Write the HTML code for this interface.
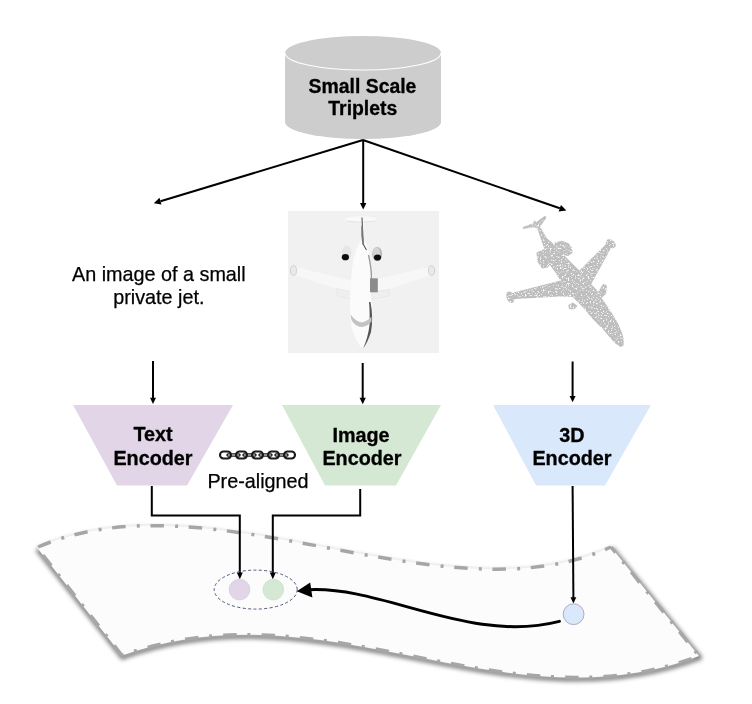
<!DOCTYPE html>
<html><head><meta charset="utf-8">
<style>
html,body{margin:0;padding:0;background:#fff;}
body{width:752px;height:704px;overflow:hidden;position:relative;}
svg{position:absolute;left:0;top:0;will-change:transform;}
text{font-family:"Liberation Sans",sans-serif;stroke:#000;stroke-width:0.25px;}
text[font-weight="bold"],g[font-weight="bold"] text{stroke-width:0.3px;}
</style></head>
<body>
<svg width="752" height="704" viewBox="0 0 752 704">
<defs>
  <filter id="soft" x="-5%" y="-5%" width="110%" height="110%"><feGaussianBlur stdDeviation="0.45"/></filter>
  <filter id="pcnoise" x="0" y="0" width="100%" height="100%">
    <feTurbulence type="fractalNoise" baseFrequency="0.6" numOctaves="2" seed="7" result="n"/>
    <feColorMatrix in="n" type="matrix" values="0 0 0 0 1  0 0 0 0 1  0 0 0 0 1  5 0 0 0 -2.75" result="w"/>
    <feComposite in="w" in2="SourceAlpha" operator="in" result="wm"/>
        <feMerge><feMergeNode in="SourceGraphic"/><feMergeNode in="wm"/></feMerge>
  </filter>
  <filter id="blur2" x="-10%" y="-20%" width="120%" height="140%"><feGaussianBlur stdDeviation="2.2"/></filter>
  <filter id="blur1" x="-10%" y="-20%" width="120%" height="140%"><feGaussianBlur stdDeviation="1.2"/></filter>
</defs>

<!-- cylinder -->
<path d="M285,53 L285,122 A78,17 0 0 0 441,122 L441,53 A78,17 0 0 0 285,53 Z" fill="#cdcdcd"/>
<path d="M285,53 A78,17 0 0 0 441,53" fill="none" stroke="#fff" stroke-width="1.2"/>
<text x="362.5" y="93" text-anchor="middle" font-size="19.4" font-weight="bold">Small Scale</text>
<text x="362.8" y="115.3" text-anchor="middle" font-size="19.4" font-weight="bold">Triplets</text>

<!-- top arrows -->
<g stroke="#000" stroke-width="2" fill="none">
  <line x1="363" y1="140" x2="160.5" y2="201.2"/>
  <line x1="363.2" y1="140" x2="363.2" y2="204"/>
  <line x1="363" y1="140" x2="559.8" y2="208.3"/>
</g>
<path d="M153.8,203.2 L159.5,197.85 L161.5,204.55 Z" fill="#000"/>
<path d="M360,203 L366.4,203 L363.2,209.5 Z" fill="#000"/>
<path d="M566.4,210.6 L558.65,211.6 L560.95,205.0 Z" fill="#000"/>

<!-- text prompt -->
<text x="158.8" y="281.3" text-anchor="middle" font-size="19.8">An image of a small</text>
<text x="158.8" y="304.4" text-anchor="middle" font-size="19.8">private jet.</text>

<!-- image box -->
<rect x="288" y="211" width="151" height="142" fill="#f1f1f1"/>
<g id="jet" filter="url(#soft)">
  <!-- horizontal stabilizer -->
  <path d="M345,218.5 Q361,214.5 376,218 Q376.5,220.5 372,221.5 Q361,223 349,221.5 Q344.5,220.5 345,218.5 Z" fill="#f9f9f9"/>
  <path d="M347,221.2 Q361,223.5 375,221" fill="none" stroke="#dedede" stroke-width="0.8"/>
  <!-- wings -->
  <path d="M294,266.5 L351,280.5 L353,299.5 L337,296 L336,288.5 L295.5,275.5 Z" fill="#f7f7f7"/>
  <path d="M431,266.5 L376,279.5 L374,299.5 L389,296.5 L389,289 L430,275.5 Z" fill="#f7f7f7"/>
  <path d="M336.5,288.5 L352,292 L352.5,299.4 L337,295.8 Z" fill="#efefef" stroke="#dcdcdc" stroke-width="0.5"/>
  <path d="M389,289.5 L372,292 L371.5,299.4 L389,296 Z" fill="#efefef" stroke="#dcdcdc" stroke-width="0.5"/>
  <ellipse cx="293.5" cy="270.5" rx="3.2" ry="5" fill="#e9e9e9" stroke="#c9c9c9" stroke-width="0.8"/>
  <ellipse cx="431.5" cy="270.5" rx="3.2" ry="5" fill="#e9e9e9" stroke="#c9c9c9" stroke-width="0.8"/>
  <!-- fuselage -->
  <path d="M362,217 L363.2,217 L364.5,240 C367,245 368.9,250 369.5,258 C370.5,268 370.5,280 371.5,300 C372.8,318 373,328 369,338 C367,343 364,347 362,348 C359,345 356,340 353.5,333 C350.5,325 350,315 350,300 C350.5,285 351.5,272 353,262 C355,250 359,244 361,240 Z" fill="#fbfbfb"/>
  <path d="M362,217.5 L363.2,244 Q365,247.5 366.5,250" fill="none" stroke="#555" stroke-width="1.1"/>
  <path d="M361.2,226 Q360.8,236 362.5,245 L364,244 Q362.8,236 363,226 Z" fill="#777"/>
  <path d="M368.5,255 Q371.5,268 371.5,279" fill="none" stroke="#9a9a9a" stroke-width="1.3"/>
  <path d="M370.5,302 Q373.5,318 371,332 Q367.5,343 363,348.5 Q368,338 369.5,325 Q370,312 369,302 Z" fill="#555"/>
  <!-- wing root dark patch -->
  <rect x="370" y="278.3" width="7.8" height="14" fill="#8c8c8c"/>
  <!-- cockpit -->
  <path d="M350.5,314.5 Q356,322 362,322.5 Q368,321 371.5,316.5 L371.5,321.5 Q368,326 362,327 Q355,326.5 351.5,320 Z" fill="#c2c2c2"/>
  <!-- engines -->
  <ellipse cx="346.6" cy="253" rx="4.8" ry="7.5" fill="#e6e6e6"/>
  <ellipse cx="377.2" cy="254" rx="5" ry="7" fill="#b9b9b9"/>
  <ellipse cx="376.5" cy="253" rx="3.5" ry="5.5" fill="#d4d4d4"/>
  <ellipse cx="345.4" cy="257.2" rx="3.6" ry="3.1" fill="#111"/>
  <ellipse cx="377.5" cy="257.5" rx="3.6" ry="3.1" fill="#111"/>
</g>

<!-- point cloud jet -->
<g fill="#bebebe" filter="url(#pcnoise)"><g id="pcs">
  <polygon points="522.2,227.2 533.0,223.2 534.1,220.3 536.4,222.0 544.9,215.8 546.6,217.5 540.9,225.5 539.2,228.9 534.1,227.2 523.3,228.9"/>
  <polygon points="537.5,228.9 540.9,227.7 546.6,238.0 554.5,244.8 566.5,257.7 579.4,270.6 588.6,281.7 596,289.1 603.4,300.2 610.8,311.3 617.5,322.5 621.5,331 623.8,339.5 623.5,345.5 620.5,347 616.5,344.5 612,340 603.4,329.7 592.3,318.6 583.1,307.6 573.9,298.3 564.6,287.3 555.4,272.5 549.9,265.1 546.2,254 542,242.5"/>
  <polygon points="554.5,242.5 561.4,240.8 568.2,243.1 571.6,247.0 572.7,252.7 568.2,256.1 561.4,255.0 555.7,250.5"/>
  <polygon points="536.4,252.7 543.2,249.3 551.1,252.7 552.3,261.8 547.7,267.5 542.0,268.6 537.5,261.8"/>
  <polygon points="560.5,280.5 515.5,292.1 511,293.5 512,300 515.5,298.9 560,296.6 574,297"/>
  <ellipse cx="510.4" cy="297.2" rx="3.8" ry="6" transform="rotate(-20 510.4 297.2)"/>
  <polygon points="579.4,270.6 607.1,242.9 610.8,248.5 590.5,285.4"/>
  <ellipse cx="610.8" cy="243.8" rx="5.5" ry="3.8" transform="rotate(35 610.8 243.8)"/>
  <polygon points="568.3,305 573,302.5 577.6,306 574,309.4 569,309"/>
  <polygon points="598,292 603,284 607.1,285 606,294 601,298.3"/>
</g>
</g>

<!-- vertical arrows to encoders -->
<g stroke="#000" stroke-width="2">
  <line x1="153" y1="361" x2="153" y2="399"/>
  <line x1="362.7" y1="363" x2="362.7" y2="399"/>
  <line x1="572.6" y1="361.5" x2="572.6" y2="397"/>
</g>
<path d="M150,397.8 L156,397.8 L153,404 Z" fill="#000"/>
<path d="M359.6,397.8 L365.8,397.8 L362.7,404.2 Z" fill="#000"/>
<path d="M569.6,396 L575.6,396 L572.6,402.3 Z" fill="#000"/>

<!-- encoders -->
<path d="M73,405 L233,405 L187,485.5 L117,485.5 Z" fill="#e1d5e7"/>
<path d="M282,405 L441,405 L396,485.5 L325,485.5 Z" fill="#d5e8d4"/>
<path d="M493,405 L651,405 L605,485.5 L536,485.5 Z" fill="#dae8fc"/>
<g font-size="19.8" font-weight="bold" text-anchor="middle">
  <text x="153" y="441">Text</text>
  <text x="153" y="465">Encoder</text>
  <text x="361" y="442">Image</text>
  <text x="362" y="465">Encoder</text>
  <text x="572" y="442">3D</text>
  <text x="572" y="465">Encoder</text>
</g>

<!-- chain -->
<g stroke="#1a1a1a" fill="none">
  <g stroke-width="2.1">
    <rect x="220" y="451.5" width="11" height="7" rx="3.5"/>
    <rect x="236" y="451.5" width="11" height="7" rx="3.5"/>
    <rect x="252" y="451.5" width="11" height="7" rx="3.5"/>
    <rect x="268" y="451.5" width="11" height="7" rx="3.5"/>
    <rect x="284" y="451.5" width="11" height="7" rx="3.5"/>
  </g>
  <g stroke-width="1.4">
    <rect x="227" y="453.9" width="13" height="2.2" rx="1.1"/>
    <rect x="243" y="453.9" width="13" height="2.2" rx="1.1"/>
    <rect x="259" y="453.9" width="13" height="2.2" rx="1.1"/>
    <rect x="275" y="453.9" width="13" height="2.2" rx="1.1"/>
  </g>
</g>
<text x="258" y="488" text-anchor="middle" font-size="19.8">Pre-aligned</text>

<!-- manifold -->
<path d="M37,547.5 L122,655.5 C324.2,582.8 503.6,730 699,656 L611,547" fill="none" stroke="#000" stroke-opacity="0.5" stroke-width="5" stroke-linejoin="round" transform="translate(0.6,1.6)" filter="url(#blur2)"/>
<path d="M37,547.5 C209.8,471.7 443.4,623.5 611,547" fill="none" stroke="#000" stroke-opacity="0.08" stroke-width="4" filter="url(#blur1)"/>
<g>
  <path d="M37,547.5 C209.8,471.7 443.4,623.5 611,547 L699,656 C503.6,730 324.2,582.8 122,655.5 Z" fill="#fcfcfc"/>
  <g fill="none" stroke="#a6a6a6" stroke-width="3.5" stroke-dasharray="13.5 11.2 3 10.66">
    <path d="M37,547.5 C209.8,471.7 443.4,623.5 611,547" stroke-dashoffset="-1.25"/>
    <path d="M611,547 L699,656" stroke-dashoffset="6.2"/>
    <path d="M699,656 C503.6,730 324.2,582.8 122,655.5" stroke-dashoffset="30.52"/>
    <path d="M122,655.5 L37,547.5" stroke-dashoffset="0.7"/>
  </g>
</g>

<!-- connectors -->
<g stroke="#000" stroke-width="2" fill="none">
  <polyline points="151.8,486 151.8,515.4 239.8,515.4 239.8,573"/>
  <polyline points="360.2,489 360.2,515.4 272.8,515.4 272.8,573"/>
  <line x1="572.6" y1="486" x2="573.4" y2="598"/>
</g>
<path d="M236.8,572.6 L242.8,572.6 L239.8,579.3 Z" fill="#000"/>
<path d="M269.8,572.6 L275.8,572.6 L272.8,579.3 Z" fill="#000"/>
<path d="M570.5,597.3 L576.3,597.3 L573.4,603.5 Z" fill="#000"/>

<!-- embedding ellipse & circles -->
<ellipse cx="255.7" cy="589.6" rx="41.5" ry="19.5" fill="none" stroke="#4a5578" stroke-width="1" stroke-dasharray="3 2.4"/>
<circle cx="239.5" cy="589.6" r="10.4" fill="#e1d5e7" stroke="#d0c4d8" stroke-width="0.6"/>
<circle cx="273.3" cy="589.6" r="10.4" fill="#d5e8d4" stroke="#c4d8c4" stroke-width="0.6"/>
<circle cx="573.6" cy="614.2" r="10.4" fill="#dae8fc" stroke="#a8a2bc" stroke-width="0.9"/>

<!-- big curved arrow -->
<path d="M559.4,621.4 C469.1,644.4 383.6,585.5 308,589.8" fill="none" stroke="#000" stroke-width="3" stroke-linecap="round"/>
<path d="M296.8,591.2 L310.2,582.4 L312.4,597.4 Z" fill="#000"/>
</svg>
</body></html>
